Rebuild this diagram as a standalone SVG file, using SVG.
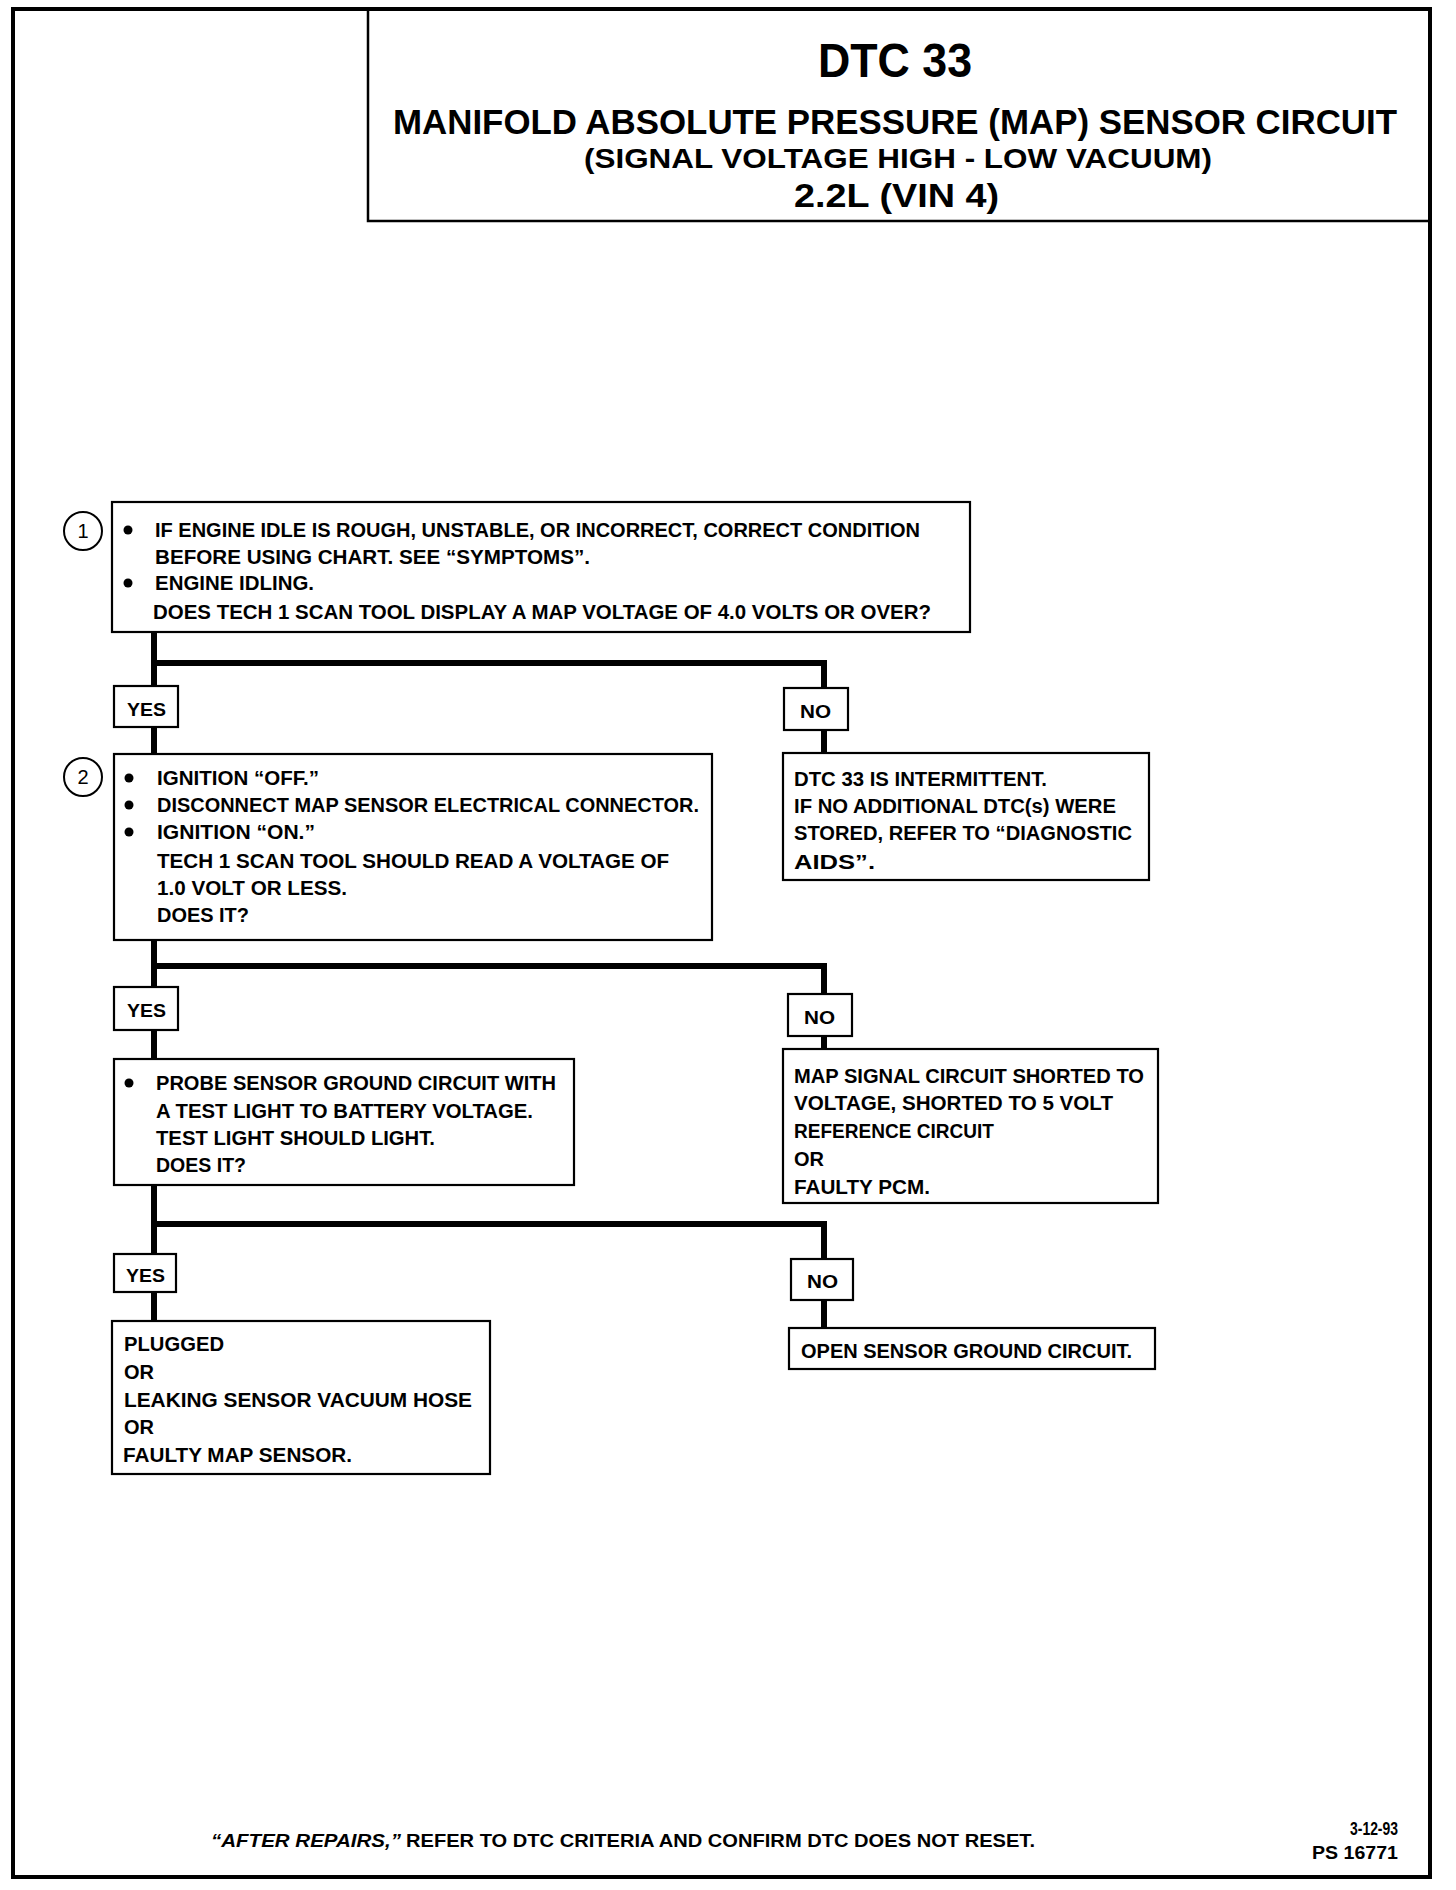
<svg xmlns="http://www.w3.org/2000/svg" width="1456" height="1890" viewBox="0 0 1456 1890">
<style>
text{font-family:"Liberation Sans",Arial,sans-serif;font-weight:bold;fill:#000}
.t{font-size:20px}
.h{font-size:18px}
.box{fill:#fff;stroke:#000;stroke-width:2.2}
.lbl{fill:#fff;stroke:#000;stroke-width:2.2}
.con{fill:none;stroke:#000;stroke-width:6}
.num{fill:#fff;stroke:#000;stroke-width:2}
.nt{font-size:20px;font-weight:normal}
</style>
<rect width="1456" height="1890" fill="#fff"/>
<g id="frame">
<path d="M13 1877 V9 H1430 V1877 Z" fill="none" stroke="#000" stroke-width="4"/>
</g>
<g id="title">
<path d="M368 9 V221 H1430" fill="none" stroke="#000" stroke-width="2.5"/>
<text x="818" y="77" style="font-size:48px" textLength="154" lengthAdjust="spacingAndGlyphs">DTC 33</text>
<text x="393" y="134" style="font-size:35px" textLength="1004" lengthAdjust="spacingAndGlyphs">MANIFOLD ABSOLUTE PRESSURE (MAP) SENSOR CIRCUIT</text>
<text x="584" y="168" style="font-size:28px" textLength="628" lengthAdjust="spacingAndGlyphs">(SIGNAL VOLTAGE HIGH - LOW VACUUM)</text>
<text x="794" y="207" style="font-size:33px" textLength="205" lengthAdjust="spacingAndGlyphs">2.2L  (VIN 4)</text>
</g>
<g id="connectors">
<path class="con" d="M154 632 V754 M151 663 H824 V753"/>
<path class="con" d="M154 940 V1059 M151 966 H824 V1049"/>
<path class="con" d="M154 1185 V1321 M151 1224 H824 V1328"/>
</g>
<g id="step1">
<rect class="box" x="112" y="502" width="858" height="130"/>
<circle class="num" cx="83" cy="531" r="19"/>
<text class="nt" x="83" y="538" text-anchor="middle">1</text>
<circle cx="128" cy="530" r="4.5"/>
<circle cx="128" cy="583" r="4.5"/>
<text class="t" x="155" y="537" textLength="765" lengthAdjust="spacingAndGlyphs">IF ENGINE IDLE IS ROUGH, UNSTABLE, OR INCORRECT, CORRECT CONDITION</text>
<text class="t" x="155" y="564" textLength="435" lengthAdjust="spacingAndGlyphs">BEFORE USING CHART.  SEE “SYMPTOMS”.</text>
<text class="t" x="155" y="590" textLength="159" lengthAdjust="spacingAndGlyphs">ENGINE IDLING.</text>
<text class="t" x="153" y="619" textLength="778" lengthAdjust="spacingAndGlyphs">DOES TECH 1 SCAN TOOL DISPLAY A MAP VOLTAGE OF 4.0 VOLTS OR OVER?</text>
</g>
<g id="yes1">
<rect class="lbl" x="114" y="686" width="64" height="41"/>
<text class="h" x="127" y="716" textLength="39" lengthAdjust="spacingAndGlyphs">YES</text>
</g>
<g id="no1">
<rect class="lbl" x="784" y="688" width="64" height="42"/>
<text class="h" x="800" y="718" textLength="31" lengthAdjust="spacingAndGlyphs">NO</text>
</g>
<g id="step2">
<rect class="box" x="114" y="754" width="598" height="186"/>
<circle class="num" cx="83" cy="777" r="19"/>
<text class="nt" x="83" y="784" text-anchor="middle">2</text>
<circle cx="129" cy="778" r="4.5"/>
<circle cx="129" cy="805" r="4.5"/>
<circle cx="129" cy="832" r="4.5"/>
<text class="t" x="157" y="785" textLength="162" lengthAdjust="spacingAndGlyphs">IGNITION “OFF.”</text>
<text class="t" x="157" y="812" textLength="542" lengthAdjust="spacingAndGlyphs">DISCONNECT MAP SENSOR ELECTRICAL CONNECTOR.</text>
<text class="t" x="157" y="839" textLength="158" lengthAdjust="spacingAndGlyphs">IGNITION “ON.”</text>
<text class="t" x="157" y="868" textLength="512" lengthAdjust="spacingAndGlyphs">TECH 1 SCAN TOOL SHOULD READ  A VOLTAGE OF</text>
<text class="t" x="157" y="895" textLength="190" lengthAdjust="spacingAndGlyphs">1.0  VOLT OR LESS.</text>
<text class="t" x="157" y="922" textLength="92" lengthAdjust="spacingAndGlyphs">DOES IT?</text>
</g>
<g id="intermittent">
<rect class="box" x="783" y="753" width="366" height="127"/>
<text class="t" x="794" y="786" textLength="253" lengthAdjust="spacingAndGlyphs">DTC 33 IS INTERMITTENT.</text>
<text class="t" x="794" y="813" textLength="322" lengthAdjust="spacingAndGlyphs">IF NO ADDITIONAL DTC(s) WERE</text>
<text class="t" x="794" y="840" textLength="338" lengthAdjust="spacingAndGlyphs">STORED, REFER TO “DIAGNOSTIC</text>
<text class="t" x="794" y="869" textLength="81" lengthAdjust="spacingAndGlyphs">AIDS”.</text>
</g>
<g id="yes2">
<rect class="lbl" x="114" y="987" width="64" height="43"/>
<text class="h" x="127" y="1017" textLength="39" lengthAdjust="spacingAndGlyphs">YES</text>
</g>
<g id="no2">
<rect class="lbl" x="788" y="994" width="64" height="42"/>
<text class="h" x="804" y="1024" textLength="31" lengthAdjust="spacingAndGlyphs">NO</text>
</g>
<g id="step3">
<rect class="box" x="114" y="1059" width="460" height="126"/>
<circle cx="129" cy="1083" r="4.5"/>
<text class="t" x="156" y="1090" textLength="400" lengthAdjust="spacingAndGlyphs">PROBE SENSOR GROUND CIRCUIT WITH</text>
<text class="t" x="156" y="1118" textLength="377" lengthAdjust="spacingAndGlyphs">A TEST LIGHT TO BATTERY VOLTAGE.</text>
<text class="t" x="156" y="1145" textLength="279" lengthAdjust="spacingAndGlyphs">TEST LIGHT SHOULD LIGHT.</text>
<text class="t" x="156" y="1172" textLength="90" lengthAdjust="spacingAndGlyphs">DOES IT?</text>
</g>
<g id="shorted">
<rect class="box" x="783" y="1049" width="375" height="154"/>
<text class="t" x="794" y="1083" textLength="350" lengthAdjust="spacingAndGlyphs">MAP SIGNAL CIRCUIT SHORTED TO</text>
<text class="t" x="794" y="1110" textLength="319" lengthAdjust="spacingAndGlyphs">VOLTAGE, SHORTED TO 5 VOLT</text>
<text class="t" x="794" y="1138" textLength="200" lengthAdjust="spacingAndGlyphs">REFERENCE CIRCUIT</text>
<text class="t" x="794" y="1166" textLength="30" lengthAdjust="spacingAndGlyphs">OR</text>
<text class="t" x="794" y="1194" textLength="136" lengthAdjust="spacingAndGlyphs">FAULTY PCM.</text>
</g>
<g id="yes3">
<rect class="lbl" x="114" y="1254" width="62" height="38"/>
<text class="h" x="126" y="1282" textLength="39" lengthAdjust="spacingAndGlyphs">YES</text>
</g>
<g id="no3">
<rect class="lbl" x="791" y="1259" width="62" height="41"/>
<text class="h" x="807" y="1288" textLength="31" lengthAdjust="spacingAndGlyphs">NO</text>
</g>
<g id="plugged">
<rect class="box" x="112" y="1321" width="378" height="153"/>
<text class="t" x="124" y="1351" textLength="100" lengthAdjust="spacingAndGlyphs">PLUGGED</text>
<text class="t" x="124" y="1379" textLength="30" lengthAdjust="spacingAndGlyphs">OR</text>
<text class="t" x="124" y="1407" textLength="348" lengthAdjust="spacingAndGlyphs">LEAKING SENSOR  VACUUM HOSE</text>
<text class="t" x="124" y="1434" textLength="30" lengthAdjust="spacingAndGlyphs">OR</text>
<text class="t" x="123" y="1462" textLength="229" lengthAdjust="spacingAndGlyphs">FAULTY MAP SENSOR.</text>
</g>
<g id="open">
<rect class="box" x="789" y="1328" width="366" height="41"/>
<text class="t" x="801" y="1358" textLength="331" lengthAdjust="spacingAndGlyphs">OPEN SENSOR GROUND CIRCUIT.</text>
</g>
<g id="footer">
<text class="h" x="211" y="1847" font-style="italic" textLength="190" lengthAdjust="spacingAndGlyphs">“AFTER REPAIRS,”</text>
<text class="h" x="406" y="1847" textLength="629" lengthAdjust="spacingAndGlyphs">REFER TO DTC CRITERIA  AND CONFIRM DTC DOES  NOT RESET.</text>
<text class="h" x="1350" y="1835" textLength="48" lengthAdjust="spacingAndGlyphs">3-12-93</text>
<text class="h" x="1312" y="1859" textLength="86" lengthAdjust="spacingAndGlyphs">PS 16771</text>
</g>
</svg>
